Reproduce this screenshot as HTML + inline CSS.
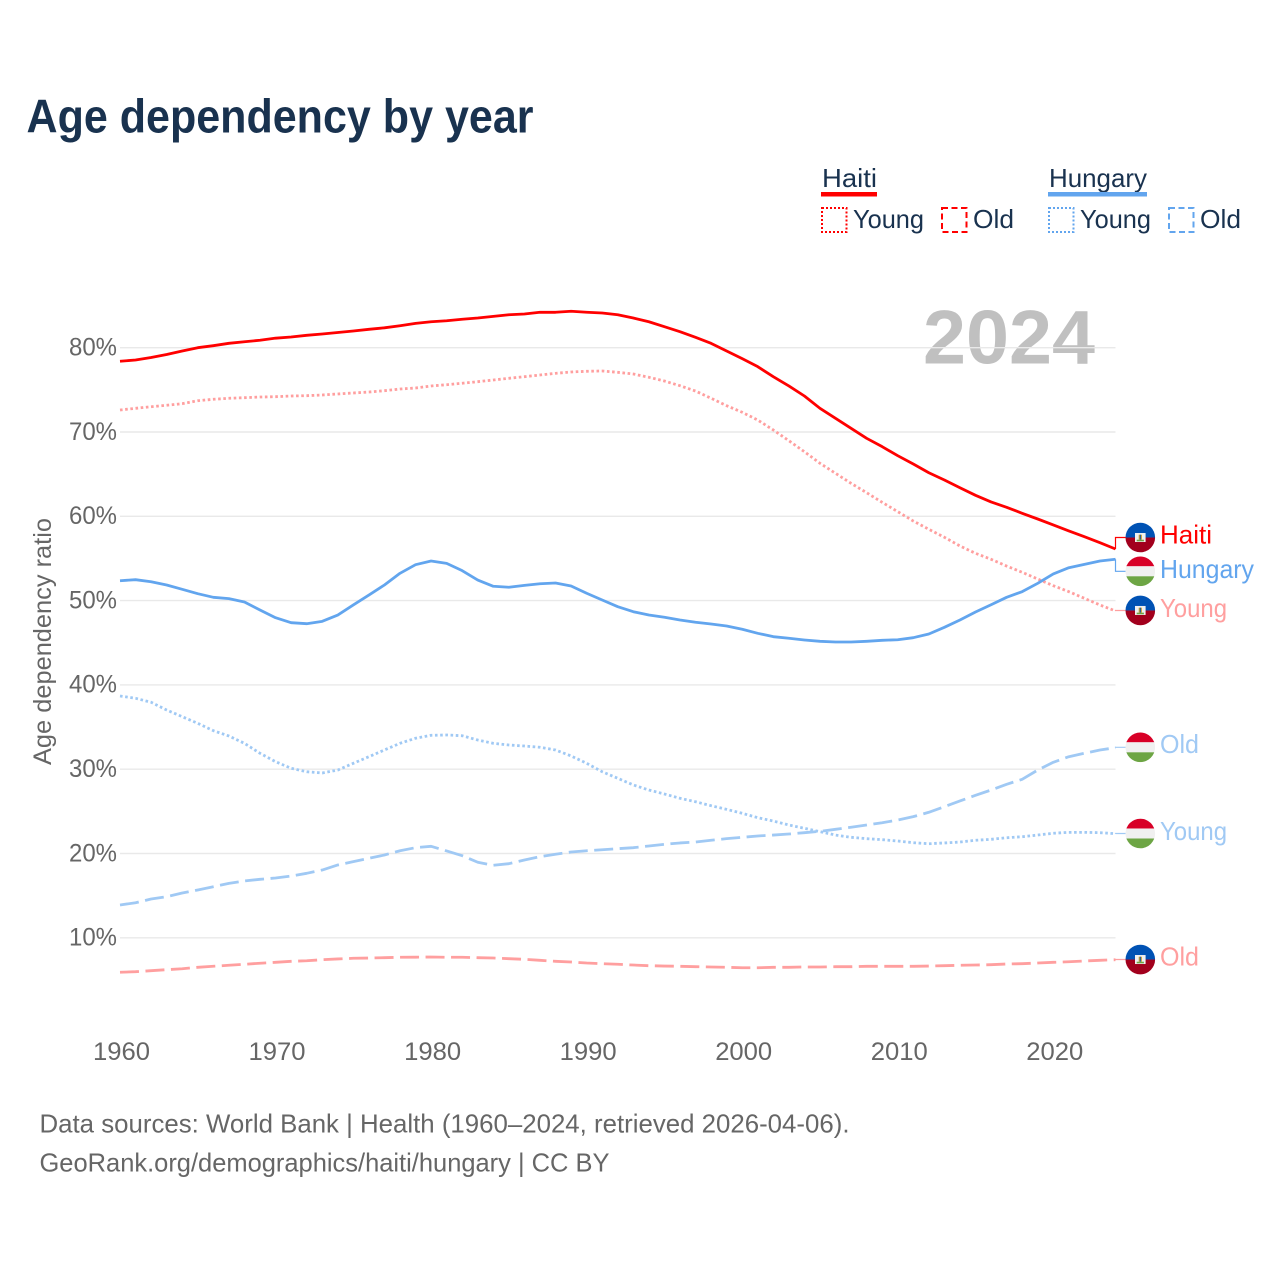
<!DOCTYPE html>
<html lang="en">
<head>
<meta charset="utf-8">
<title>Age dependency by year</title>
<style>
html,body{margin:0;padding:0;background:#fff;}
svg{display:block;font-family:"Liberation Sans",sans-serif;}
</style>
</head>
<body>
<svg id="chart" xmlns="http://www.w3.org/2000/svg" width="1280" height="1280" viewBox="0 0 1280 1280">
  <rect width="1280" height="1280" fill="#ffffff"/>
  <text x="26.5" y="132.5" font-size="47" font-weight="700" fill="#19324f" textLength="507" lengthAdjust="spacingAndGlyphs">Age dependency by year</text>

  <g font-size="26" fill="#19324f">
    <text x="822" y="187" textLength="55" lengthAdjust="spacingAndGlyphs">Haiti</text>
    <rect x="821" y="192" width="56" height="4.5" fill="#ff0000"/>
    <rect x="822" y="208" width="24.5" height="24" fill="none" stroke="#ff0000" stroke-width="2" stroke-dasharray="2 2"/>
    <text x="853" y="228" textLength="71" lengthAdjust="spacingAndGlyphs">Young</text>
    <rect x="942" y="208" width="24.5" height="24" fill="none" stroke="#ff0000" stroke-width="2" stroke-dasharray="6 3.5"/>
    <text x="973" y="228" textLength="41" lengthAdjust="spacingAndGlyphs">Old</text>
    <text x="1049" y="187" textLength="98" lengthAdjust="spacingAndGlyphs">Hungary</text>
    <rect x="1048" y="192" width="99" height="4.5" fill="#62a5ee"/>
    <rect x="1049" y="208" width="24.5" height="24" fill="none" stroke="#62a5ee" stroke-width="2" stroke-dasharray="2 2"/>
    <text x="1080" y="228" textLength="71" lengthAdjust="spacingAndGlyphs">Young</text>
    <rect x="1169" y="208" width="24.5" height="24" fill="none" stroke="#62a5ee" stroke-width="2" stroke-dasharray="6 3.5"/>
    <text x="1200" y="228" textLength="41" lengthAdjust="spacingAndGlyphs">Old</text>
  </g>

  <text transform="translate(51,765) rotate(-90)" font-size="25" fill="#666666" textLength="247" lengthAdjust="spacingAndGlyphs">Age dependency ratio</text>

  <text x="923" y="363.5" font-size="76" font-weight="700" fill="#c0c0c0" textLength="172" lengthAdjust="spacingAndGlyphs">2024</text>

  <g id="grid"></g>
  <g id="yticks"></g>
  <g id="xticks"></g>
  <g id="series"></g>
  <g id="labels"></g>

  <text x="39.5" y="1132.5" font-size="26" fill="#666666" textLength="810" lengthAdjust="spacingAndGlyphs">Data sources: World Bank | Health (1960–2024, retrieved 2026-04-06).</text>
  <text x="39.5" y="1171.5" font-size="26" fill="#666666" textLength="570" lengthAdjust="spacingAndGlyphs">GeoRank.org/demographics/haiti/hungary | CC BY</text>
</svg>

<script>
const firstYear = 1960;
const lastYear = 2024;
const yTickValues = [10, 20, 30, 40, 50, 60, 70, 80];
const xTickYears = [1960, 1970, 1980, 1990, 2000, 2010, 2020];

const haitiTotal = [78.39,78.54,78.84,79.19,79.61,80.0,80.24,80.52,80.71,80.88,81.13,81.27,81.47,81.62,81.80,81.98,82.18,82.36,82.61,82.89,83.08,83.20,83.37,83.52,83.72,83.91,84.0,84.2,84.2,84.32,84.2,84.12,83.91,83.52,83.08,82.49,81.90,81.23,80.52,79.61,78.7,77.75,76.56,75.46,74.27,72.81,71.63,70.44,69.25,68.26,67.19,66.2,65.17,64.31,63.39,62.49,61.7,61.07,60.36,59.68,58.97,58.26,57.58,56.87,56.12];
const haitiYoung = [72.61,72.81,73.0,73.17,73.36,73.71,73.88,74.0,74.07,74.15,74.19,74.27,74.31,74.39,74.51,74.63,74.74,74.9,75.1,75.22,75.46,75.61,75.78,75.97,76.17,76.37,76.56,76.76,76.96,77.12,77.2,77.24,77.08,76.88,76.49,76.05,75.49,74.86,74.0,73.12,72.34,71.42,70.24,68.97,67.66,66.29,65.1,63.91,62.8,61.66,60.55,59.44,58.46,57.51,56.48,55.61,54.9,54.1,53.36,52.56,51.77,51.06,50.27,49.48,48.77];
const haitiOld = [5.91,5.98,6.1,6.22,6.33,6.5,6.62,6.74,6.86,6.98,7.09,7.21,7.28,7.4,7.49,7.57,7.6,7.64,7.69,7.7,7.72,7.69,7.69,7.64,7.6,7.52,7.45,7.33,7.21,7.13,7.01,6.93,6.86,6.77,6.69,6.65,6.62,6.57,6.54,6.5,6.45,6.45,6.5,6.5,6.54,6.54,6.57,6.57,6.62,6.62,6.62,6.62,6.65,6.69,6.74,6.77,6.81,6.89,6.93,7.01,7.09,7.16,7.25,7.33,7.4];
const hungaryTotal = [52.36,52.48,52.24,51.85,51.34,50.82,50.39,50.23,49.83,48.89,47.97,47.38,47.26,47.54,48.29,49.48,50.66,51.85,53.24,54.26,54.7,54.42,53.55,52.44,51.7,51.58,51.81,52.0,52.09,51.73,50.87,50.07,49.28,48.68,48.29,48.02,47.7,47.43,47.22,46.99,46.6,46.12,45.72,45.53,45.33,45.17,45.09,45.09,45.17,45.29,45.36,45.6,46.04,46.83,47.7,48.65,49.51,50.39,51.06,52.05,53.16,53.9,54.3,54.7,54.9];
const hungaryYoung = [38.68,38.41,37.94,37.02,36.23,35.44,34.57,33.94,33.07,31.89,30.89,30.11,29.7,29.55,29.9,30.7,31.48,32.28,33.07,33.67,34.02,34.06,33.97,33.46,33.07,32.87,32.75,32.6,32.28,31.57,30.7,29.7,28.92,28.13,27.53,27.06,26.55,26.14,25.67,25.24,24.77,24.25,23.85,23.38,22.99,22.59,22.19,21.92,21.76,21.64,21.48,21.28,21.16,21.25,21.36,21.57,21.68,21.87,21.99,22.19,22.4,22.51,22.51,22.47,22.35];
const hungaryOld = [13.89,14.16,14.6,14.88,15.31,15.67,16.06,16.46,16.74,16.94,17.09,17.33,17.65,18.04,18.64,19.03,19.43,19.82,20.33,20.69,20.85,20.3,19.74,18.96,18.6,18.79,19.23,19.62,19.91,20.18,20.33,20.45,20.57,20.69,20.89,21.09,21.25,21.36,21.57,21.76,21.92,22.08,22.19,22.31,22.47,22.63,22.87,23.11,23.38,23.65,23.97,24.37,24.89,25.55,26.23,26.9,27.53,28.21,28.8,29.9,30.82,31.48,31.89,32.28,32.55];

const NS = 'http://www.w3.org/2000/svg';
const plotLeft = 120, plotRight = 1115.5;
function xScale(year) {
  return plotLeft + (year - firstYear) * (plotRight - plotLeft) / (lastYear - firstYear);
}
function yScale(value) {
  return 1022.1 - 8.43 * value;
}
function make(tag, attrs, parent) {
  const node = document.createElementNS(NS, tag);
  for (const key in attrs) node.setAttribute(key, attrs[key]);
  parent.appendChild(node);
  return node;
}

const gridGroup = document.getElementById('grid');
const yTickGroup = document.getElementById('yticks');
const xTickGroup = document.getElementById('xticks');
const seriesGroup = document.getElementById('series');
const labelGroup = document.getElementById('labels');

yTickValues.forEach(function (v) {
  const line = make('line', {x1: plotLeft, x2: plotRight, y1: yScale(v), y2: yScale(v), stroke: '#e9e9e9', 'stroke-width': 1.4}, gridGroup);
  
  
  const label = make('text', {x: 69, y: yScale(v) + 7.8, 'font-size': 25, fill: '#666666', textLength: 48, lengthAdjust: 'spacingAndGlyphs'}, yTickGroup);
  label.textContent = v + '%';
  
  
});

xTickYears.forEach(function (yr) {
  const label = make('text', {x: xScale(yr) - 27, y: 1060, 'font-size': 25, fill: '#666666', textLength: 57, lengthAdjust: 'spacingAndGlyphs'}, xTickGroup);
  label.textContent = String(yr);
  
  
});

function linePath(values) {
  return values.map(function (v, i) {
    return (i ? 'L' : 'M') + xScale(firstYear + i).toFixed(2) + ' ' + yScale(v).toFixed(2);
  }).join(' ');
}
function drawLine(values, color, dash, width) {
  const attrs = {d: linePath(values), fill: 'none', stroke: color, 'stroke-width': width, 'stroke-linejoin': 'round'};
  if (dash) attrs['stroke-dasharray'] = dash;
  return make('path', attrs, seriesGroup);
}

const DOT = '2.6 2.6';
const DASH = '19 6.5';
const RED = '#ff0000', RED_LIGHT = '#ff9f9f', BLUE = '#62a5ee', BLUE_LIGHT = '#a0c9f4';

const oldHaitiLine = drawLine(haitiOld, RED_LIGHT, DASH, 2.8);


const oldHungaryLine = drawLine(hungaryOld, BLUE_LIGHT, DASH, 2.8);


const youngHungaryLine = drawLine(hungaryYoung, BLUE_LIGHT, DOT, 2.8);


const youngHaitiLine = drawLine(haitiYoung, RED_LIGHT, DOT, 2.8);


const totalHungaryLine = drawLine(hungaryTotal, BLUE, '', 2.8);


const totalHaitiLine = drawLine(haitiTotal, RED, '', 2.8);



const clipDefs = make('defs', {}, labelGroup);
let clipCount = 0;

function drawFlag(country, cx, cy) {
  clipCount += 1;
  const clip = make('clipPath', {id: 'flag-clip-' + clipCount}, clipDefs);
  make('circle', {cx: cx, cy: cy, r: 14.8}, clip);
  const flag = make('g', {'clip-path': 'url(#flag-clip-' + clipCount + ')'}, labelGroup);
  
  
  if (country === 'haiti') {
    make('rect', {x: cx - 15, y: cy - 15, width: 30, height: 15, fill: '#0052b4'}, flag);
    make('rect', {x: cx - 15, y: cy, width: 30, height: 15, fill: '#a2001d'}, flag);
    make('rect', {x: cx - 5.3, y: cy - 4.5, width: 10.6, height: 9, fill: '#f0f0f0'}, flag);
    make('rect', {x: cx - 1.6, y: cy - 2.8, width: 3.2, height: 5, fill: '#d0a030'}, flag);
    make('rect', {x: cx - 0.5, y: cy - 2.8, width: 1, height: 5, fill: '#0052b4'}, flag);
    make('rect', {x: cx - 3.6, y: cy + 2.2, width: 7.2, height: 1.6, fill: '#6da544'}, flag);
  } else {
    make('rect', {x: cx - 15, y: cy - 15, width: 30, height: 10, fill: '#d80027'}, flag);
    make('rect', {x: cx - 15, y: cy - 5, width: 30, height: 10, fill: '#f0f0f0'}, flag);
    make('rect', {x: cx - 15, y: cy + 5, width: 30, height: 10, fill: '#6da544'}, flag);
  }
}

function drawEndLabel(key, country, text, values, color, nudge, labelWidth, textDy) {
  const endX = xScale(lastYear);
  const endY = yScale(values[values.length - 1]);
  const cy = endY + nudge;
  const connector = make('path', {d: 'M' + endX + ' ' + endY + ' L' + endX + ' ' + cy + ' L1125.5 ' + cy, fill: 'none', stroke: color, 'stroke-width': 1.2}, labelGroup);
  
  
  drawFlag(country, 1140.3, cy);
  const label = make('text', {x: 1160, y: cy + textDy, 'font-size': 26, fill: color, textLength: labelWidth, lengthAdjust: 'spacingAndGlyphs'}, labelGroup);
  label.textContent = text;
  
  
}

drawEndLabel('haiti-total', 'haiti', 'Haiti', haitiTotal, RED, -11.5, 52, 5.8);
drawEndLabel('hungary-total', 'hungary', 'Hungary', hungaryTotal, BLUE, 12, 94, 6.5);
drawEndLabel('haiti-young', 'haiti', 'Young', haitiYoung, RED_LIGHT, -0.5, 67, 6.7);
drawEndLabel('hungary-old', 'hungary', 'Old', hungaryOld, BLUE_LIGHT, -0.4, 39, 5.8);
drawEndLabel('hungary-young', 'hungary', 'Young', hungaryYoung, BLUE_LIGHT, -0.2, 67, 6.3);
drawEndLabel('haiti-old', 'haiti', 'Old', haitiOld, RED_LIGHT, -0.2, 39, 5.8);
</script>
</body>
</html>
